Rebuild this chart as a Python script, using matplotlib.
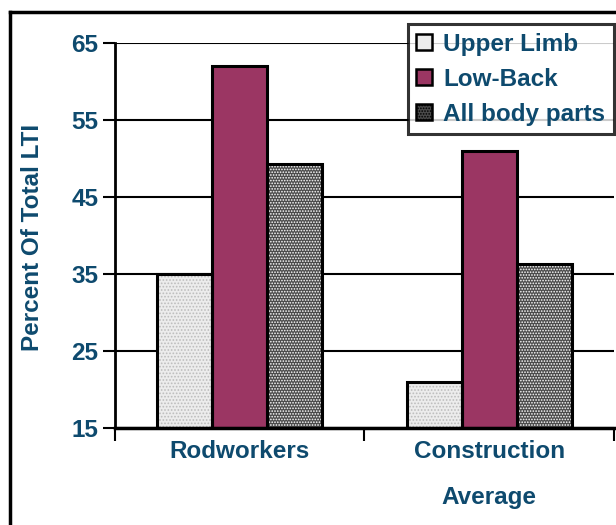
import numpy as np
import matplotlib.pyplot as plt
from matplotlib.patches import Patch
from matplotlib.lines import Line2D

plt.rcParams['font.family'] = ['Liberation Sans', 'DejaVu Sans']
plt.rcParams['font.weight'] = 'bold'
plt.rcParams['hatch.linewidth'] = 0.8

categories = ['Rodworkers', 'Construction\n\nAverage']
series = ['Upper Limb', 'Low-Back', 'All body parts']
upper_limb = [35, 21]
low_back = [62, 51]
all_parts = [49.3, 36.3]
yticks = [15, 25, 35, 45, 55, 65]

txt = '#0e4a6e'
fs = 17.5
styles = [
    dict(facecolor='#ececec', hatch='.....', hcolor='#bdbdbd'),
    dict(facecolor='#9b3663', hatch=None, hcolor=None),
    dict(facecolor='#4a4a4a', hatch='......', hcolor='#ffffff'),
]
legend_hatch = [None, None, '......']

fig = plt.figure(figsize=(6.16, 5.25), dpi=100)
ax = fig.add_axes([0.1867, 0.1848, 0.81, 0.7333])

x = np.array([0.5, 1.5])
w = 0.22
for i, vals in enumerate([upper_limb, low_back, all_parts]):
    st = styles[i]
    pos = x + (i - 1) * w
    h = np.array(vals) - 15
    if st['hatch']:
        ax.bar(pos, h, w, bottom=15, color=st['facecolor'],
               edgecolor=st['hcolor'], hatch=st['hatch'], linewidth=0, zorder=2)
    else:
        ax.bar(pos, h, w, bottom=15, color=st['facecolor'], linewidth=0, zorder=2)
    ax.bar(pos, h, w, bottom=15, fill=False, edgecolor='black', linewidth=2.2, zorder=3)

ax.set_xlim(0, 2)
ax.set_ylim(15, 65)
ax.set_yticks(yticks)
ax.set_xticks([0, 1, 2])
ax.set_xticklabels([])
ax.set_xticks(x, minor=True)
ax.set_xticklabels(categories, minor=True, color=txt, fontsize=fs, fontweight='bold',
                   linespacing=1.0)
ax.tick_params(axis='x', which='minor', length=0, pad=9)
ax.tick_params(axis='x', which='major', direction='out', length=9, width=1.5)
ax.tick_params(axis='y', direction='out', length=9, width=1.5, labelsize=fs,
               labelcolor=txt, pad=3)
for lab in ax.get_yticklabels():
    lab.set_fontweight('bold')

ax.yaxis.grid(True, color='black', linewidth=1.5, zorder=0)
ax.set_axisbelow(True)
for s in ['top', 'right']:
    ax.spines[s].set_visible(False)
ax.spines['left'].set_linewidth(2)
ax.spines['bottom'].set_linewidth(2.5)

fig.text(0.052, 0.547, 'Percent Of Total LTI', rotation=90, ha='center', va='center',
         color=txt, fontsize=fs, fontweight='bold')

# outer frame
fig.add_artist(Line2D([10/616, 10/616], [0, 1 - 12/525], color='black', linewidth=2.5,
                      transform=fig.transFigure))
fig.add_artist(Line2D([10/616, 1], [1 - 12/525, 1 - 12/525], color='black', linewidth=2.5,
                      transform=fig.transFigure))

handles = []
for st, hh, name in zip(styles, legend_hatch, series):
    handles.append(Patch(facecolor=st['facecolor'], hatch=hh,
                         edgecolor='black', linewidth=1.8, label=name))
leg = ax.legend(handles=handles, loc='upper right', bbox_to_anchor=(0.996, 1 - 24/525),
                bbox_transform=fig.transFigure, frameon=True, fancybox=False,
                edgecolor='black', handlelength=0.65, handleheight=0.65,
                handletextpad=0.45, labelspacing=0.5, borderpad=0.35,
                borderaxespad=0, prop={'size': fs, 'weight': 'bold'}, labelcolor=txt)
leg.get_frame().set_linewidth(2.2)
leg.set_zorder(5)

fig.savefig('out.png', dpi=100)
